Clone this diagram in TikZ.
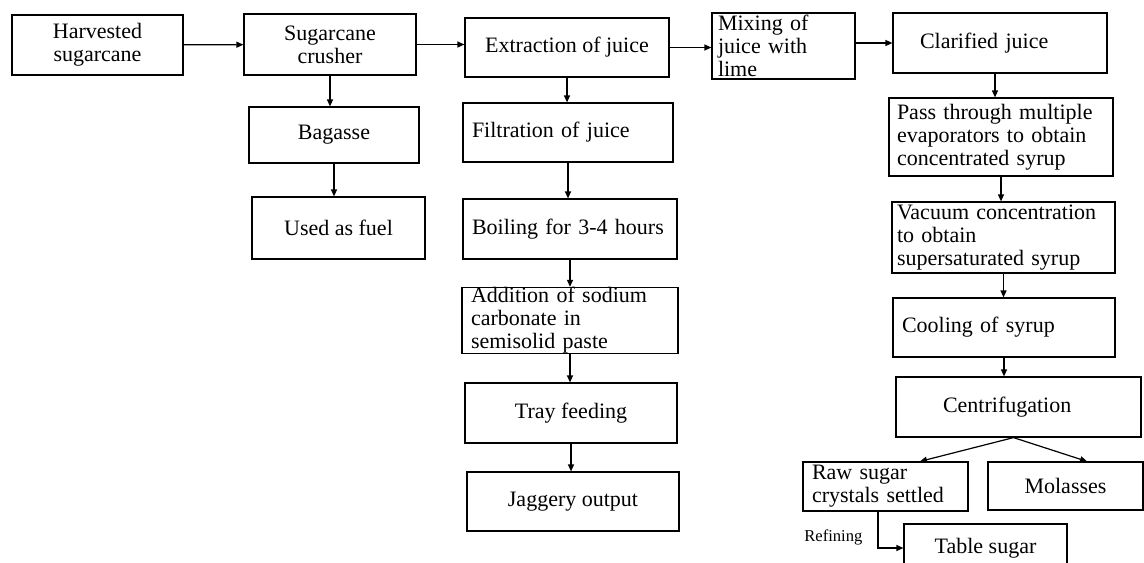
\documentclass[tikz,border=0pt]{standalone}
\usepackage{fontspec}
\setmainfont{Liberation Serif}
\usetikzlibrary{arrows.meta}
\newcommand{\px}[0]{0.5pt}

\begin{document}
\begin{tikzpicture}[x=\px, y=-\px]
  \tikzset{
    every node/.style={font=\fontsize{11pt}{11.5pt}\selectfont},
    stage/.style 2 args={draw, line width=0.6pt, align=center, inner sep=0pt,
      minimum width=#1*\px, minimum height=#2*\px},
    leftstage/.style n args={3}{draw, line width=0.6pt, align=left, inner ysep=0pt,
      inner xsep=#3*\px, text width=#1*\px-2*#3*\px, minimum height=#2*\px},
    flow/.style={line width=0.6pt, -{Triangle[length=3.5pt,width=3pt]}}
  }
  \useasboundingbox (0,0) rectangle (1144,562);
  \clip (0,0) rectangle (1144,562);
  \node[stage={171}{60}] (cane) at (97.5,45) {Harvested\\sugarcane};
  \node[stage={172}{61}] (crusher) at (330,44.5) {Sugarcane\\crusher};
  \node[stage={170}{56}] (bagasse) at (334,135) {Bagasse};
  \node[stage={173}{62}] (fuel) at (338.5,228) {Used as fuel};
  \node[stage={204}{59}] (extract) at (567,47.5) {Extraction of juice};
  \node[leftstage={210}{59}{9}] (filter) at (568,132.5) {Filtration of juice};
  \node[leftstage={214}{60}{9}] (boil) at (570,229) {Boiling for 3-4 hours};
  \node[leftstage={216}{65}{9}] (soda) at (570,320.5) {Addition of sodium\\carbonate in\\semisolid paste};
  \node[stage={212}{60}] (tray) at (571,413) {Tray feeding};
  \node[stage={212}{59}] (jaggery) at (573,501.5) {Jaggery output};
  \node[leftstage={143}{66}{6}] (lime) at (783.5,46) {Mixing of\\juice with\\lime};
  \node[leftstage={214}{60}{27}] (clarified) at (1000,43) {Clarified juice};
  \node[leftstage={224}{78}{8}] (evap) at (1001,137) {Pass through multiple\\evaporators to obtain\\concentrated syrup};
  \node[leftstage={223}{71}{5}] (vacuum) at (1003.5,237.5) {Vacuum concentration\\to obtain\\supersaturated syrup};
  \node[leftstage={222}{59}{9}] (cooling) at (1004,327.5) {Cooling of syrup};
  \node[leftstage={245}{60}{47}] (centri) at (1018.5,407) {Centrifugation};
  \node[leftstage={165}{49}{9}] (raw) at (885.5,486.5) {Raw sugar\\crystals settled};
  \node[stage={155}{48}] (molasses) at (1065.5,486) {Molasses};
  \node[stage={163}{48}] (table) at (985.5,548) {Table sugar};
  \draw[flow] (cane) -- (crusher);
  \draw[flow] (crusher.east) -- (crusher.east -| extract.west);
  \draw[flow] (crusher.south) -- (crusher.south |- bagasse.north);
  \draw[flow] (bagasse.south) -- (bagasse.south |- fuel.north);
  \draw[flow] (extract.east) -- (extract.east -| lime.west);
  \draw[flow] (extract.south) -- (extract.south |- filter.north);
  \draw[flow] (filter.south) -- (filter.south |- boil.north);
  \draw[flow] (boil.south) -- (boil.south |- soda.north);
  \draw[flow] (soda.south) -- (soda.south |- tray.north);
  \draw[flow] (tray.south) -- (tray.south |- jaggery.north);
  \draw[flow] (lime.east |- clarified) -- (clarified.west);
  \draw[flow] ([xshift=-2.5pt]clarified.south) -- ([xshift=-2.5pt]clarified.south |- evap.north);
  \draw[flow] (evap.south) -- (evap.south |- vacuum.north);
  \draw[flow] (vacuum.south) -- (vacuum.south |- cooling.north);
  \draw[flow] (cooling.south) -- (cooling.south |- centri.north);
  \draw[flow] ([xshift=-2.5pt]centri.south) -- ([xshift=17.25pt]raw.north);
  \draw[flow] ([xshift=-2.5pt]centri.south) -- ([xshift=10.75pt]molasses.north);
  \draw[flow] ([xshift=-3.75pt]raw.south) |- node[pos=0.36, left, inner sep=0pt, xshift=-7.5pt,
    font=\fontsize{8.3pt}{9pt}\selectfont] (refining) {Refining} (table.west);
\end{tikzpicture}
\end{document}
